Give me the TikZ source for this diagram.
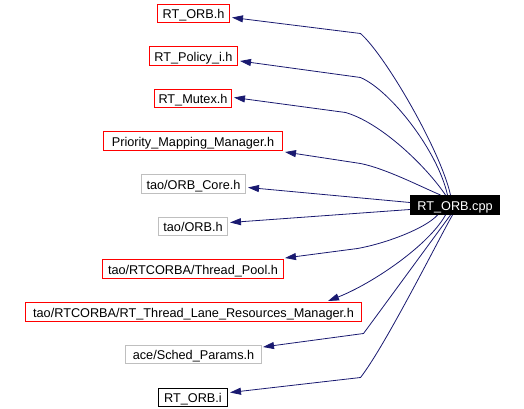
\documentclass[tikz,border=0pt]{standalone}
\usepackage{fontspec}
\setmainfont{Liberation Sans}
\usetikzlibrary{arrows.meta,calc}
\definecolor{edgeblue}{HTML}{191970}
\definecolor{boxgray}{HTML}{BFBFBF}
\definecolor{boxred}{HTML}{FF0000}
\begin{document}
\begin{tikzpicture}[x=1pt,y=-1pt,
  every node/.style={font=\fontsize{12.7}{14}\selectfont, inner sep=0pt, line width=1pt, text height=10.4pt, text depth=0pt},
  redbox/.style={draw=boxred, fill=white},
  graybox/.style={draw=boxgray, fill=white},
  blackbox/.style={draw=black, fill=white},
  mainbox/.style={draw=black, fill=black, text=white},
  edge/.style={draw=edgeblue, line width=0.8pt, -{Triangle[length=11pt,width=7pt]}}]
\useasboundingbox (0,0) rectangle (524,409);
\begin{scope}[shift={(0.5,0.5)}]
\node[redbox, minimum width=72pt, minimum height=18pt] (n1) at (193,13) {RT\_ORB.h};
\node[redbox, minimum width=88pt, minimum height=19pt] (n2) at (193,55.5) {RT\_Policy\_i.h};
\node[redbox, minimum width=77pt, minimum height=18pt] (n3) at (192.5,98) {RT\_Mutex.h};
\node[redbox, minimum width=179pt, minimum height=19pt] (n4) at (192.5,140.5) {Priority\_Mapping\_Manager.h};
\node[graybox, minimum width=104pt, minimum height=19pt] (n5) at (193,183.5) {tao/ORB\_Core.h};
\node[graybox, minimum width=69pt, minimum height=18pt] (n6) at (192.5,226) {tao/ORB.h};
\node[redbox, minimum width=181pt, minimum height=19pt] (n7) at (192.5,268.5) {tao/RTCORBA/Thread\_Pool.h};
\node[redbox, minimum width=336pt, minimum height=19pt] (n8) at (193,311.5) {tao/RTCORBA/RT\_Thread\_Lane\_Resources\_Manager.h};
\node[graybox, minimum width=136pt, minimum height=18pt] (n9) at (193,354) {ace/Sched\_Params.h};
\node[blackbox, minimum width=69pt, minimum height=18pt] (n10) at (192.5,397) {RT\_ORB.i};
\node[mainbox, minimum width=89pt, minimum height=19pt] (cpp) at (454.5,204.5) {RT\_ORB.cpp};

\draw[edge] ($(cpp.north)+(-4.5,0)$) .. controls (440,150) and (385,55) .. (360,33) -- ($(n1.east)+(2,4)$);
\draw[edge] ($(cpp.north)+(-7.5,0)$) .. controls (437,150) and (390,90) .. (360,77) -- ($(n2.east)+(2,5)$);
\draw[edge] ($(cpp.north)+(-9.5,0)$) .. controls (425,165) and (380,122) .. (345,112) -- ($(n3.east)+(2,-1)$);
\draw[edge] ($(cpp.north)+(-14.5,0)$) .. controls (420,186) and (385,168) .. (360,163) -- ($(n4.south east)+(2,1)$);
\draw[edge] ($(cpp.west)+(0,-2.5)$) -- ($(n5.east)+(2,3.5)$);
\draw[edge] ($(cpp.west)+(0,4.5)$) -- ($(n6.east)+(2,-4)$);
\draw[edge] ($(cpp.south)+(-17.5,0)$) .. controls (425,228) and (385,243) .. (357,248) -- ($(n7.north east)+(1,-1)$);
\draw[edge] ($(cpp.south)+(-9.5,0)$) .. controls (428,245) and (372,283) .. ($(n8.north east)+(-34,-1)$);
\draw[edge] ($(cpp.south)+(-4.5,0)$) .. controls (440,228) and (380,310) .. (363,333) -- ($(n9.north east)+(1,2)$);
\draw[edge] ($(cpp.south)+(-2.5,0)$) .. controls (440,235) and (385,345) .. (360,377) -- ($(n10.east)+(2,-5)$);
\end{scope}
\end{tikzpicture}
\end{document}
